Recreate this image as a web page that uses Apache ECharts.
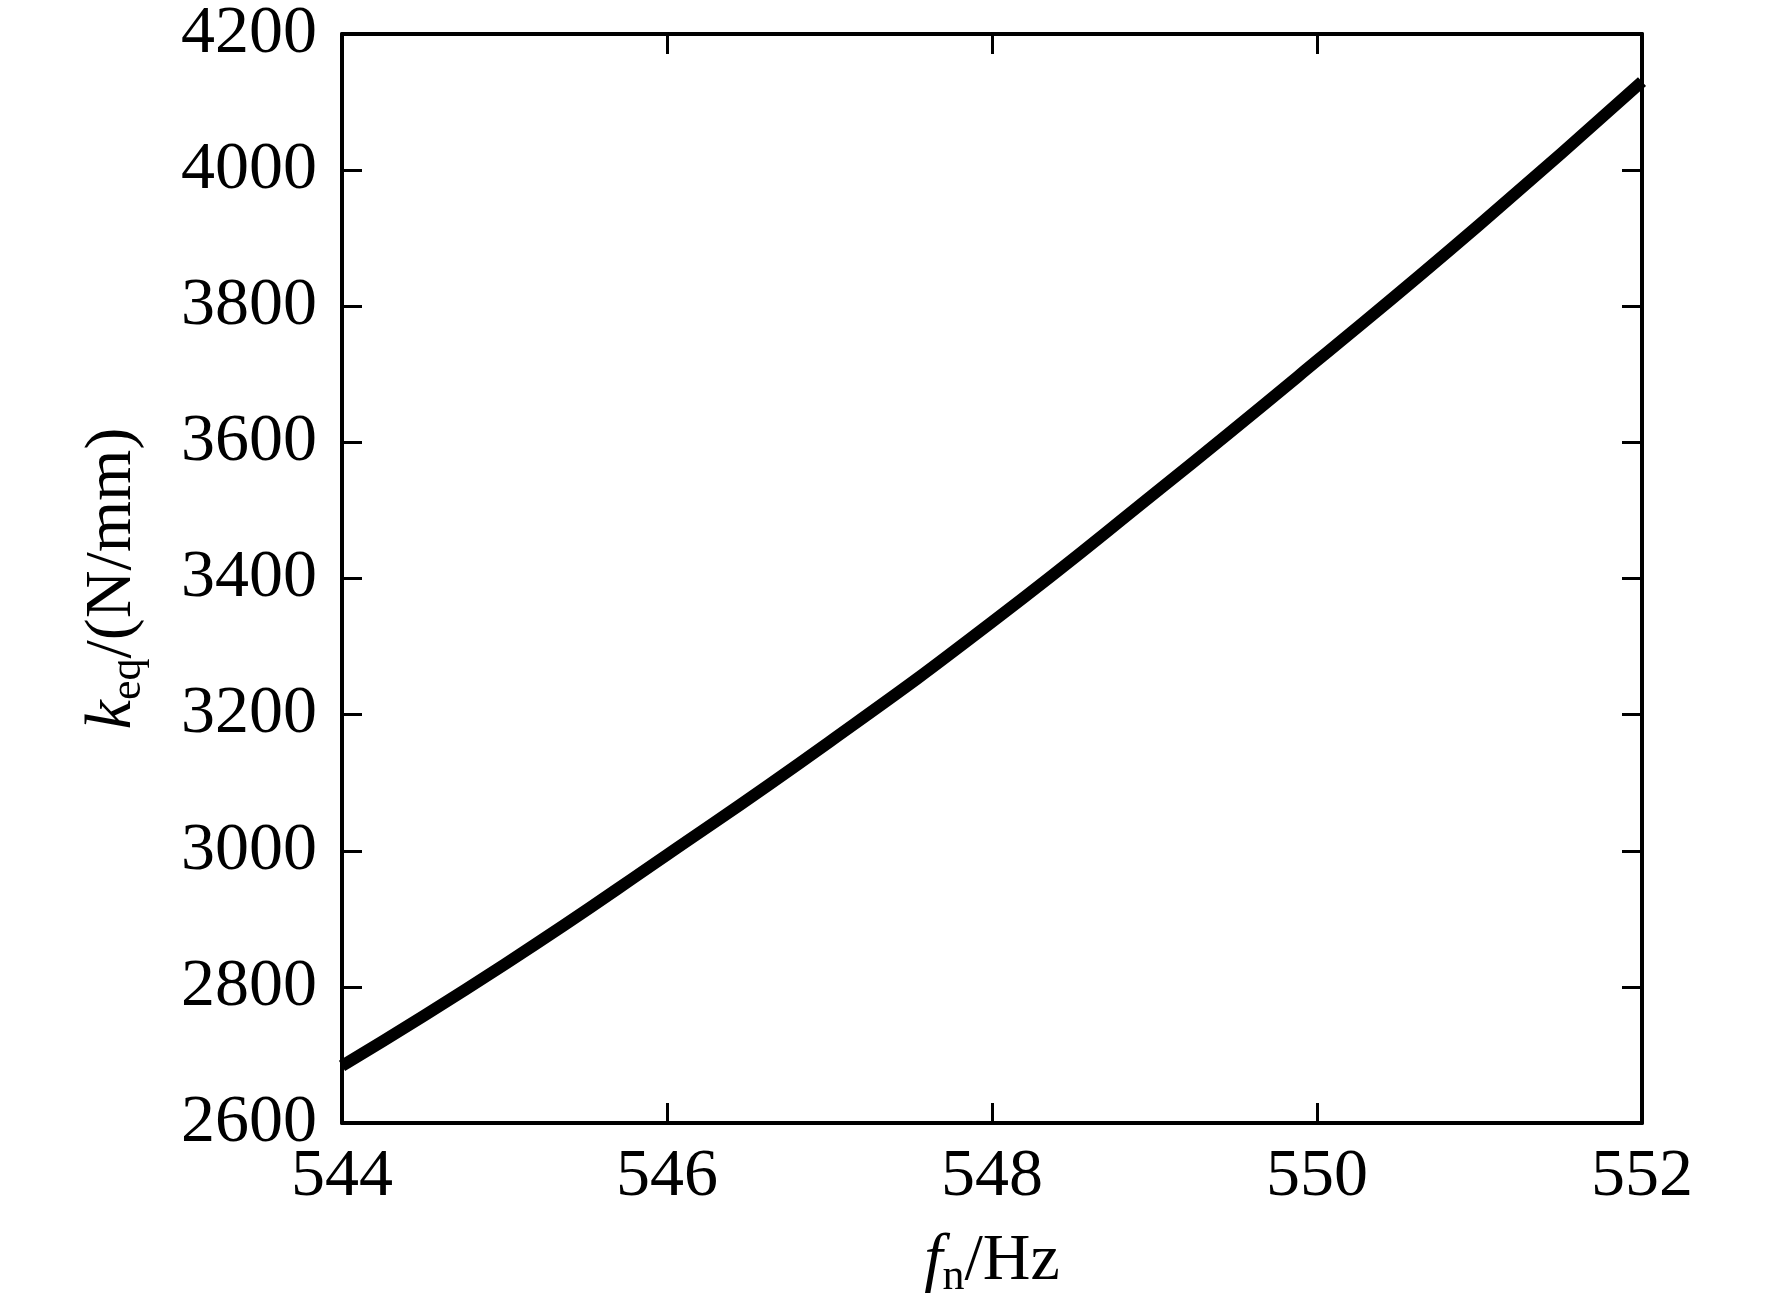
<!DOCTYPE html>
<html>
<head>
<meta charset="utf-8">
<script src="https://cdn.jsdelivr.net/npm/echarts@6/dist/echarts.min.js"></script>
<style>
html,body{margin:0;padding:0;background:#fff;}
#chart{width:1772px;height:1312px;}
</style>
</head>
<body>
<div id="chart"></div>
<script>
var freq = [544, 545, 546, 547, 548, 549, 550, 551, 552];
var keq = [2684, 2833, 2994, 3160, 3336, 3525, 3720, 3920, 4130];
var xTicks = [544, 546, 548, 550, 552];
var yTicks = [2600, 2800, 3000, 3200, 3400, 3600, 3800, 4000, 4200];

var FONT = '"Liberation Serif", "Times New Roman", serif';
var data = freq.map(function (f, i) { return [f, keq[i]]; });

var axisCommon = {
  axisLine: { show: true, lineStyle: { color: '#000', width: 4 } },
  axisTick: { show: true, inside: true, length: 20, lineStyle: { color: '#000', width: 3 } },
  splitLine: { show: false }
};

var richName = {
  i: { fontFamily: FONT, fontStyle: 'italic', fontSize: 66, color: '#000', lineHeight: 74 },
  s: { fontFamily: FONT, fontSize: 44, color: '#000', verticalAlign: 'bottom', lineHeight: 74 },
  m: { fontFamily: FONT, fontSize: 66, color: '#000', lineHeight: 74 }
};

var chart = echarts.init(document.getElementById('chart'));
chart.setOption({
  backgroundColor: '#fff',
  animation: false,
  grid: { left: 342, right: 130, top: 32, bottom: 189, containLabel: false },
  xAxis: [
    Object.assign({
      type: 'value', min: xTicks[0], max: xTicks[xTicks.length - 1], interval: 2,
      position: 'bottom',
      axisLabel: { color: '#000', fontFamily: FONT, fontSize: 68, margin: 20,
        formatter: function (v) { return String(v); } },
      name: '{i|f}{s|n}{m|/Hz}',
      nameLocation: 'middle',
      nameGap: 102,
      nameTextStyle: { rich: richName }
    }, axisCommon),
    Object.assign({
      type: 'value', min: xTicks[0], max: xTicks[xTicks.length - 1], interval: 2,
      position: 'top',
      axisLabel: { show: false }
    }, axisCommon)
  ],
  yAxis: [
    Object.assign({
      type: 'value', min: yTicks[0], max: yTicks[yTicks.length - 1], interval: 200,
      position: 'left',
      axisLabel: { color: '#000', fontFamily: FONT, fontSize: 68, margin: 25,
        formatter: function (v) { return String(v); } },
      name: '{i|k}{s|eq}{m|/(N/mm)}',
      nameLocation: 'middle',
      nameGap: 192,
      nameRotate: 90,
      nameTextStyle: { rich: richName }
    }, axisCommon),
    Object.assign({
      type: 'value', min: yTicks[0], max: yTicks[yTicks.length - 1], interval: 200,
      position: 'right',
      axisLabel: { show: false }
    }, axisCommon)
  ],
  series: [{
    type: 'line',
    data: data,
    smooth: true,
    showSymbol: false,
    xAxisIndex: 0,
    yAxisIndex: 0,
    lineStyle: { color: '#000', width: 12 },
    clip: true
  }]
});
</script>
</body>
</html>
